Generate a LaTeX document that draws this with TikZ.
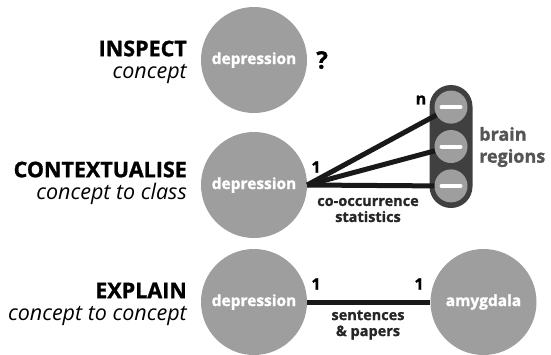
\documentclass[tikz,border=0pt]{standalone}
\usepackage{fontspec}
\setmainfont{Open Sans}[BoldFeatures={FakeBold=1.2}]
\usetikzlibrary{positioning}
\definecolor{conceptgray}{HTML}{9E9E9E}
\definecolor{capsulegray}{HTML}{404040}
\definecolor{regiongray}{HTML}{555555}
\tikzset{
  concept/.style={circle,fill=conceptgray,minimum size=106pt,inner sep=0pt,text=white,font=\bfseries\fontsize{15.5}{18}\selectfont},
  task/.style={align=right,anchor=east,inner sep=0pt,font=\fontsize{21.5}{22}\selectfont},
  region/.style={circle,fill=conceptgray,minimum size=33pt,inner sep=0pt},
  link/.style={line width=5pt,black!90},
  count/.style={font=\bfseries\fontsize{16}{18}\selectfont,inner sep=0pt},
  note/.style={align=center,inner sep=0pt,text=black!85,font=\bfseries\fontsize{14.5}{16}\selectfont}
}
\begin{document}
\begin{tikzpicture}[x=1pt,y=-1pt]
\path[use as bounding box] (0,0) rectangle (551,354);
\node[task] (inspect) at (187,62) {{\bfseries INSPECT}\\{\itshape concept}};
\node[task] (contextualise) at (187,183) {{\bfseries CONTEXTUALISE}\\{\itshape concept to class}};
\node[task] (explain) at (187,304) {{\bfseries EXPLAIN}\\{\itshape concept to concept}};
\node[concept] (dep1) at (254,60) {depression};
\node[font=\bfseries\fontsize{24}{24}\selectfont,inner sep=0pt,right=9pt of dep1] (query) {?};
\node[concept] (dep2) at (254,185) {depression};
\node[fill=capsulegray,rounded corners=21.5pt,minimum width=43pt,minimum height=123pt,inner sep=0pt] (regions) at (451,146.5) {};
\node[region] (r2) at (regions.center) {};
\node[region,above=6pt of r2] (r1) {};
\node[region,below=6pt of r2] (r3) {};
\foreach \r in {r1,r2,r3}
  \draw[white,line width=4pt,line cap=round] ([xshift=-9.5pt]\r.center) -- ([xshift=9.5pt]\r.center);
\draw[link] (dep2.east) -- (r1);
\draw[link] (dep2.east) -- (r2);
\draw[link] (dep2.east) -- (r3.west);
\node[count] (one) at (316,167) {1};
\node[count] (many) at (421,100) {n};
\node[note] (cooc) at (368,210) {co-occurrence\\statistics};
\node[align=left,anchor=west,inner sep=0pt,text=regiongray,font=\bfseries\fontsize{18}{22}\selectfont] (brain) at (479,147) {brain\\regions};
\node[concept] (dep3) at (254,302) {depression};
\node[concept] (amyg) at (483.5,302) {amygdala};
\draw[link] (dep3) -- (amyg);
\node[count] (onea) at (316,284) {1};
\node[count] (oneb) at (419,284) {1};
\node[note] (sent) at (368,325) {sentences\\\& papers};
\end{tikzpicture}
\end{document}
